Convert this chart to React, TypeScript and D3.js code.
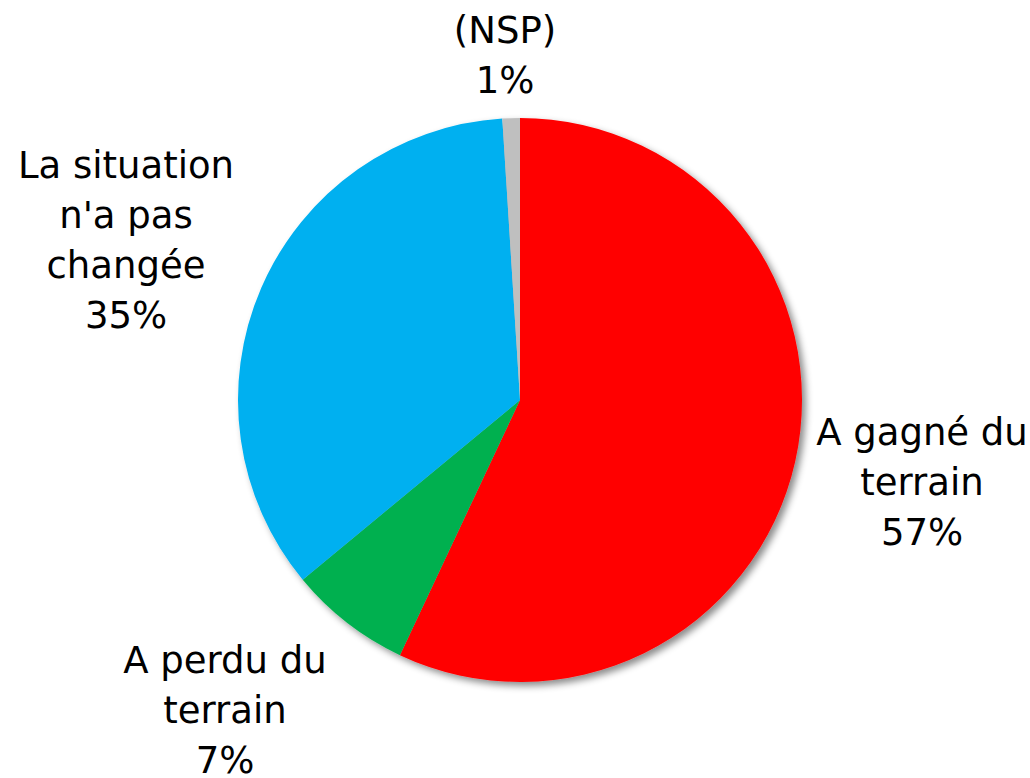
import React, { useRef, useEffect } from "react";
import * as d3 from "d3";

const categories = ["A gagné du terrain", "A perdu du terrain", "La situation n'a pas changée", "(NSP)"];
const values = [57, 7, 35, 1];
const colors = ["#FF0000", "#00B050", "#00B0F0", "#BFBFBF"];
const labelLines = [
  ["A gagné du", "terrain", "57%"],
  ["A perdu du", "terrain", "7%"],
  ["La situation", "n'a pas", "changée", "35%"],
  ["(NSP)", "1%"],
];
// label anchor (centre x, first baseline y)
const labelPos = [
  [922, 445],
  [225, 673],
  [126, 178],
  [505, 43],
];

const App = () => {
  const svgRef = useRef<SVGSVGElement>(null);

  useEffect(() => {
    const svg = d3.select(svgRef.current);
    svg.selectAll("*").remove();
    const width = 1030;
    const height = 778;
    const cx = 520;
    const cy = 400;
    const radius = 282;

    const defs = svg.append("defs");
    const filter = defs
      .append("filter")
      .attr("id", "shadow")
      .attr("x", "-10%")
      .attr("y", "-10%")
      .attr("width", "130%")
      .attr("height", "130%");
    filter
      .append("feDropShadow")
      .attr("dx", 4)
      .attr("dy", 4)
      .attr("stdDeviation", 3.5)
      .attr("flood-color", "#000")
      .attr("flood-opacity", 0.45);

    const data = categories.map((c, i) => ({ name: c, value: values[i], color: colors[i] }));
    const pie = d3
      .pie<any>()
      .sort(null)
      .value((d) => d.value);
    const arc = d3.arc<any>().innerRadius(0).outerRadius(radius);

    const g = svg
      .append("g")
      .attr("transform", `translate(${cx},${cy})`)
      .attr("filter", "url(#shadow)");
    g.selectAll("path")
      .data(pie(data))
      .enter()
      .append("path")
      .attr("d", arc)
      .attr("fill", (d) => d.data.color);

    const lineH = 50;
    labelLines.forEach((lines, i) => {
      const t = svg
        .append("text")
        .attr("text-anchor", "middle")
        .style("font-family", "'DejaVu Sans', sans-serif")
        .style("font-size", "37px")
        .style("fill", "#000");
      lines.forEach((ln, j) => {
        t.append("tspan")
          .attr("x", labelPos[i][0])
          .attr("y", labelPos[i][1] + j * lineH)
          .text(ln);
      });
    });

    svg.attr("width", width).attr("height", height);
  }, []);

  return (
    <div style={{ position: "absolute", left: 0, top: 0 }}>
      <svg ref={svgRef} width={1030} height={778}></svg>
    </div>
  );
};

export default App;
